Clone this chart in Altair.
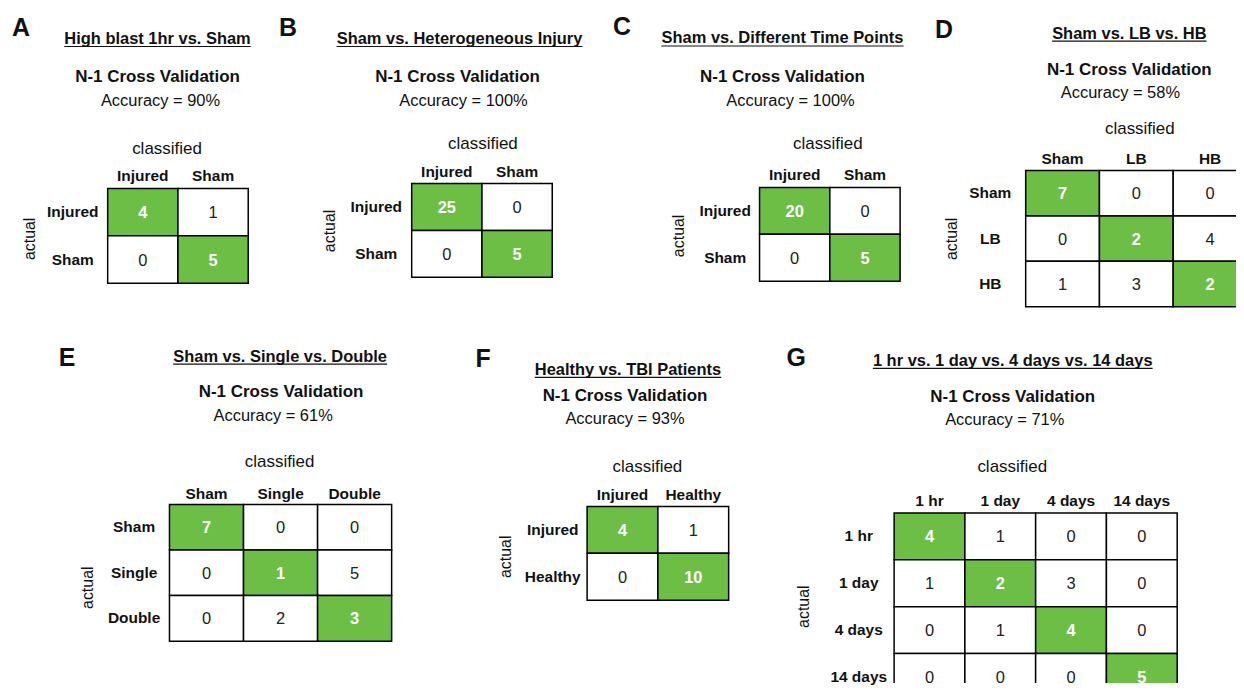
import altair as alt
import pandas as pd

FONT = "Liberation Sans"
GREEN = "#6cbe45"
INK = "#111111"
NUM_INK = "#222222"

# ---------------- data ----------------
letters = ["A", "B", "C", "D", "E", "F", "G"]
titles = [
    "High blast 1hr vs. Sham",
    "Sham vs. Heterogeneous Injury",
    "Sham vs. Different Time Points",
    "Sham vs. LB vs. HB",
    "Sham vs. Single vs. Double",
    "Healthy vs. TBI Patients",
    "1 hr vs. 1 day vs. 4 days vs. 14 days",
]
accuracies = [90, 100, 100, 58, 61, 93, 71]

A_classes = ["Injured", "Sham"]
A_matrix = [[4, 1], [0, 5]]
B_classes = ["Injured", "Sham"]
B_matrix = [[25, 0], [0, 5]]
C_classes = ["Injured", "Sham"]
C_matrix = [[20, 0], [0, 5]]
D_classes = ["Sham", "LB", "HB"]
D_matrix = [[7, 0, 0], [0, 2, 4], [1, 3, 2]]
E_classes = ["Sham", "Single", "Double"]
E_matrix = [[7, 0, 0], [0, 1, 5], [0, 2, 3]]
F_classes = ["Injured", "Healthy"]
F_matrix = [[4, 1], [0, 10]]
G_classes = ["1 hr", "1 day", "4 days", "14 days"]
G_matrix = [[4, 1, 0, 0], [1, 2, 3, 0], [0, 1, 4, 0], [0, 0, 0, 5]]

class_lists = [A_classes, B_classes, C_classes, D_classes, E_classes, F_classes, G_classes]
matrices = [A_matrix, B_matrix, C_matrix, D_matrix, E_matrix, F_matrix, G_matrix]

# ---------------- layout (page pixels) ----------------
ROWS = [(8, 330), (330, 684)]

LAYOUT = [
    dict(row=0, region=(8, 270), cells=(108, 188), cw=70.5, rh=47.5, letter=(12, 35),
         title=(158, 43), n1=(158, 81), acc=(161, 105.5), cls=(167, 153), colpad=8,
         rowpad=35.5, actual=(30, 238)),
    dict(row=0, region=(270, 605), cells=(413, 183), cw=70.5, rh=47, letter=(280, 35),
         title=(461, 43), n1=(459, 81), acc=(465, 105.5), cls=(484, 147.5), colpad=7,
         rowpad=36, actual=(331, 230)),
    dict(row=0, region=(605, 930), cells=(762, 187), cw=70.5, rh=47, letter=(615, 33.5),
         title=(785, 42.5), n1=(785, 81), acc=(793, 105.5), cls=(830, 148), colpad=8,
         rowpad=35, actual=(681, 235)),
    dict(row=0, region=(930, 1240), cells=(1029, 170), cw=74, rh=45.5, letter=(938, 37),
         title=(1133, 37.7), n1=(1133, 74), acc=(1124, 97.5), cls=(1143, 132.7), colpad=7,
         rowpad=36, actual=(955, 238)),
    dict(row=1, region=(8, 470), cells=(170, 505), cw=74.3, rh=45.7, letter=(59, 366),
         title=(281, 361.7), n1=(282, 396.7), acc=(274, 421.7), cls=(280, 466.7), colpad=6,
         rowpad=36, actual=(87.5, 588)),
    dict(row=1, region=(470, 780), cells=(589, 507), cw=71, rh=47, letter=(477, 367),
         title=(630, 375), n1=(627, 400.7), acc=(627, 424), cls=(649, 471.7), colpad=7,
         rowpad=35, actual=(507.5, 557)),
    dict(row=1, region=(780, 1240), cells=(897, 513.5), cw=71, rh=47, letter=(789, 366),
         title=(1016, 366), n1=(1016, 401.7), acc=(1008, 425.7), cls=(1015, 471.7), colpad=7,
         rowpad=36, actual=(806.5, 607)),
]

TITLE_SIZE = 16.5
N1_SIZE = 17
ACC_SIZE = 16.5
CLS_SIZE = 17
LABEL_SIZE = 15.5
NUM_SIZE = 16.5
LETTER_SIZE = 25

# Helvetica/Arial bold advance widths (per 1000 em) used to size the underline
BOLD_W = {
    " ": 278, ".": 278, "-": 333,
    "A": 722, "B": 722, "C": 722, "D": 722, "E": 667, "F": 611, "G": 778, "H": 722,
    "I": 278, "L": 611, "M": 833, "N": 722, "P": 667, "S": 667, "T": 611, "V": 667,
    "a": 556, "b": 611, "c": 556, "d": 611, "e": 556, "f": 333, "g": 611, "h": 611,
    "i": 278, "j": 278, "k": 556, "l": 278, "m": 889, "n": 611, "o": 611, "p": 611,
    "r": 389, "s": 556, "t": 333, "u": 611, "v": 556, "w": 778, "y": 556,
}


def bold_width(s, size):
    return sum(BOLD_W.get(ch, 556) for ch in s) * size / 1000.0


def one(s):
    return pd.DataFrame({"s": [s]})


def txt(s, x, y, size, weight="normal", align="center"):
    return alt.Chart(one(s)).mark_text(
        font=FONT, fontSize=size, fontWeight=weight, align=align,
        baseline="alphabetic", color=INK
    ).encode(text="s:N", x=alt.value(x), y=alt.value(y))


def panel(i):
    g = LAYOUT[i]
    classes = class_lists[i]
    mat = matrices[i]
    n = len(classes)
    L, R = g["region"]
    T, B = ROWS[g["row"]]
    W, H = R - L, B - T
    cx, cy = g["cells"]
    ox, oy = cx - L, cy - T          # cell block offset inside the panel
    cw, rh = g["cw"], g["rh"]

    rows = []
    for a_i, a in enumerate(classes):
        for c_i, c in enumerate(classes):
            rows.append({"actual": a, "classified": c, "n": mat[a_i][c_i],
                         "diag": a_i == c_i})
    df = pd.DataFrame(rows)

    xenc = alt.X(
        "classified:N", sort=classes,
        scale=alt.Scale(domain=classes, range=[ox, ox + cw * n],
                        paddingInner=0, paddingOuter=0),
        axis=alt.Axis(
            orient="top", offset=-oy, title="classified", titleFont=FONT,
            titleFontSize=CLS_SIZE, titleFontWeight="normal", titleColor=INK,
            titleX=g["cls"][0] - L, titleY=g["cls"][1] - cy,
            titleBaseline="alphabetic", titleAlign="center",
            labelFont=FONT, labelFontSize=LABEL_SIZE, labelFontWeight="bold",
            labelColor=INK, labelPadding=g["colpad"], labelBaseline="alphabetic",
            labelAngle=0, labelAlign="center", ticks=False, tickSize=0,
            domain=False, grid=False,
        ),
    )
    yenc = alt.Y(
        "actual:N", sort=classes,
        scale=alt.Scale(domain=classes, range=[oy, oy + rh * n],
                        paddingInner=0, paddingOuter=0),
        axis=alt.Axis(
            orient="left", offset=-ox, title="actual", titleFont=FONT,
            titleFontSize=16, titleFontWeight="normal", titleColor=INK,
            titleX=g["actual"][0] - cx, titleY=g["actual"][1] - T,
            titleBaseline="middle", titleAlign="center", titleAngle=270,
            labelFont=FONT, labelFontSize=LABEL_SIZE, labelFontWeight="bold",
            labelColor=INK, labelPadding=g["rowpad"], labelBaseline="middle",
            labelAlign="center", ticks=False, tickSize=0, domain=False, grid=False,
        ),
    )
    base = alt.Chart(df).encode(x=xenc, y=yenc)
    cells = base.mark_rect(stroke="black", strokeWidth=1.5, clip=True).encode(
        color=alt.condition("datum.diag", alt.value(GREEN), alt.value("white"))
    )
    num_diag = base.transform_filter("datum.diag").mark_text(
        font=FONT, fontSize=NUM_SIZE, fontWeight="bold", color="white",
        baseline="middle", dy=1, clip=True
    ).encode(text="n:Q")
    num_off = base.transform_filter("!datum.diag").mark_text(
        font=FONT, fontSize=NUM_SIZE, fontWeight="normal", color=NUM_INK,
        baseline="middle", dy=1, clip=True
    ).encode(text="n:Q")

    # invisible frame covering this panel's share of the page
    frame = alt.Chart(one("frame")).mark_rect(opacity=0).encode(
        x=alt.value(0), x2=alt.value(W), y=alt.value(0), y2=alt.value(H),
    )

    tw = bold_width(titles[i], TITLE_SIZE)
    tx, ty = g["title"][0] - L, g["title"][1] - T
    underline = alt.Chart(one("u")).mark_rule(color=INK, strokeWidth=1.2).encode(
        x=alt.value(tx - tw / 2), x2=alt.value(tx + tw / 2), y=alt.value(ty + 2.5),
    )

    layers = [
        frame, cells, num_diag, num_off,
        txt(letters[i], g["letter"][0] - L, g["letter"][1] - T, LETTER_SIZE, "bold", "left"),
        txt(titles[i], tx, ty, TITLE_SIZE, "bold"),
        underline,
        txt("N-1 Cross Validation", g["n1"][0] - L, g["n1"][1] - T, N1_SIZE, "bold"),
        txt(f"Accuracy = {accuracies[i]}%", g["acc"][0] - L, g["acc"][1] - T, ACC_SIZE),
    ]
    return alt.layer(*layers).properties(width=W, height=H)


row1 = alt.hconcat(*[panel(i) for i in range(4)], spacing=0)
row2 = alt.hconcat(*[panel(i) for i in range(4, 7)], spacing=0)

chart = (
    alt.vconcat(row1, row2, spacing=0)
    .properties(padding=0)
    .configure(font=FONT)
    .configure_view(strokeWidth=0)
)

chart.save("out.html", embed_options={"renderer": "svg", "actions": False})
